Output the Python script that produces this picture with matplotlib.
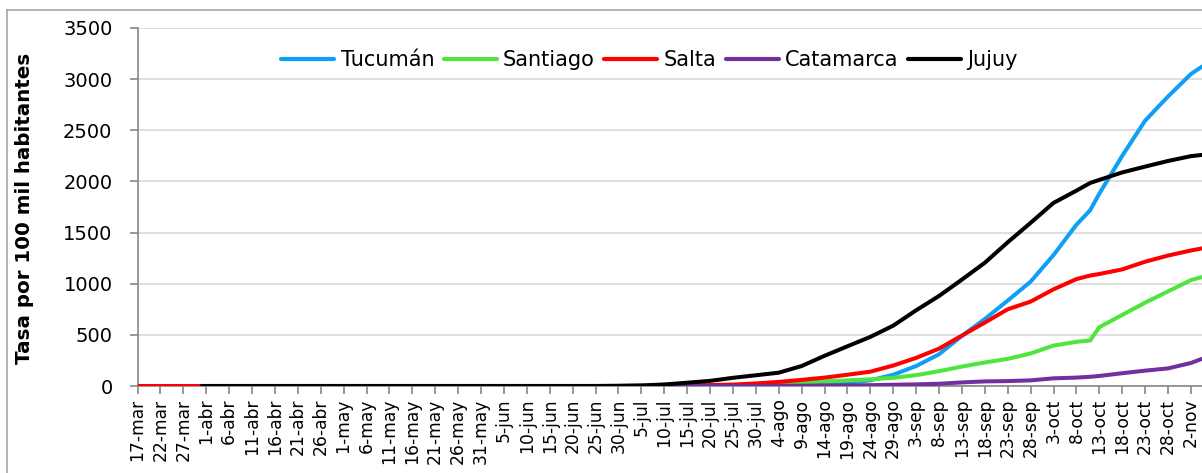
import matplotlib
matplotlib.use('Agg')
import matplotlib.pyplot as plt
import numpy as np
from matplotlib.lines import Line2D

nan = np.nan

# days since 17-mar (2020)
day_index = [0, 5, 10, 14, 15, 20, 25, 30, 35, 40, 45, 50, 55, 60, 65, 70, 75, 80, 85, 90,
             95, 100, 105, 110, 115, 120, 125, 130, 135, 140, 145, 150, 155, 160, 165, 170,
             175, 180, 185, 190, 195, 200, 205, 208, 210, 215, 220, 225, 230, 233]

tucuman = [nan, nan, nan,
           0, 0, 0, 0, 0, 0, 0, 0, 0, 0, 0, 0, 0, 0, 0, 0, 0, 0, 0, 0, 0, 0,
           1, 2, 3, 5, 8, 12, 18, 32, 55, 110, 195, 310, 490, 655, 835, 1020, 1280,
           1576, 1719, 1880, 2250, 2594, 2830, 3050, 3140]

santiago = [nan, nan, nan,
            0, 0, 0, 0, 0, 0, 0, 0, 0, 0, 0, 0, 0, 0, 0, 0, 0, 0, 0, 0, 0, 0, 0,
            3, 8, 15, 25, 35, 45, 55, 65, 80, 106, 145, 190, 230, 265, 318, 395, 432,
            445, 575, 695, 815, 925, 1035, 1072]

salta = [0, 0, 0, 0, 0, 0, 0, 0, 0, 0, 0, 0, 0, 0, 0, 0, 0, 0, 0, 0, 0, 0, 0,
         3, 4, 6, 9, 14, 25, 40, 60, 82, 110, 140, 200, 275, 365, 493, 620, 750, 825,
         945, 1045, 1080, 1095, 1140, 1215, 1275, 1325, 1350]

catamarca = [nan, nan, nan,
             0, 0, 0, 0, 0, 0, 0, 0, 0, 0, 0, 0, 0, 0, 0, 0, 0, 0, 0, 0, 0, 0, 0, 0, 0, 0,
             2, 3, 5, 6, 8, 12, 16, 22, 35, 45, 48, 55, 75, 82, 90, 98, 125, 150, 172,
             225, 275]

jujuy = [nan, nan, nan,
         0, 0, 0, 0, 0, 0, 0, 0, 0, 0, 0, 0, 0, 0, 0, 0, 0, 0, 0,
         2, 5, 15, 32, 50, 80, 105, 130, 195, 295, 388, 480, 590, 740, 880, 1040, 1205,
         1405, 1595, 1790, 1910, 1985, 2015, 2088, 2145, 2200, 2247, 2262]

series_names = ['Tucumán', 'Santiago', 'Salta', 'Catamarca', 'Jujuy']
series_values = [tucuman, santiago, salta, catamarca, jujuy]
series_colors = ['#0FA0F5', '#4EE63C', '#FF0000', '#7030A0', '#000000']

tick_labels = ['17-mar', '22-mar', '27-mar', '1-abr', '6-abr', '11-abr', '16-abr', '21-abr',
               '26-abr', '1-may', '6-may', '11-may', '16-may', '21-may', '26-may', '31-may',
               '5-jun', '10-jun', '15-jun', '20-jun', '25-jun', '30-jun', '5-jul', '10-jul',
               '15-jul', '20-jul', '25-jul', '30-jul', '4-ago', '9-ago', '14-ago', '19-ago',
               '24-ago', '29-ago', '3-sep', '8-sep', '13-sep', '18-sep', '23-sep', '28-sep',
               '3-oct', '8-oct', '13-oct', '18-oct', '23-oct', '28-oct', '2-nov']
tick_step = 5

W, H = 1202, 473
fig = plt.figure(figsize=(W / 100, H / 100), dpi=100)
ax_left, ax_right, ax_top, ax_bottom = 137.5, 1202, 28, 386
ax = fig.add_axes([ax_left / W, 1 - ax_bottom / H, (ax_right - ax_left) / W, (ax_bottom - ax_top) / H])

for name, vals, col in zip(series_names, series_values, series_colors):
    ax.plot(day_index, vals, color=col, lw=2.9, label=name, solid_capstyle='round', zorder=3)

px_per_day = 4.58
ax.set_xlim(0, (ax_right - ax_left) / px_per_day)
ax.set_ylim(0, 3500)
ax.set_yticks(np.arange(0, 3501, 500))
ax.set_xticks([i * tick_step for i in range(len(tick_labels))])
ax.set_xticklabels(tick_labels, rotation=90, fontsize=12.3, family='DejaVu Sans')
ax.tick_params(axis='y', labelsize=14, length=6, width=1.2, color='#868686', pad=12)
ax.tick_params(axis='x', length=6, width=1.2, color='#868686', pad=3)

ax.grid(axis='y', color='#D9D9D9', lw=1.2, zorder=0)
ax.set_axisbelow(True)
for s in ['top', 'right']:
    ax.spines[s].set_visible(False)
for s in ['left', 'bottom']:
    ax.spines[s].set_color('#868686')
    ax.spines[s].set_linewidth(1.2)

ax.set_ylabel('Tasa por 100 mil habitantes', fontsize=14.3, fontweight='bold')
ax.yaxis.set_label_coords(-0.097, 0.497)

leg = ax.legend(loc='center', bbox_to_anchor=(0.481, 0.911), ncol=5, frameon=False,
                fontsize=15, handlelength=2.55, handletextpad=0.3, columnspacing=0.45)
for h in leg.get_lines():
    h.set_linewidth(3)

# outer chart frame (left and top edges visible)
fig.add_artist(Line2D([7 / W, 7 / W], [0, 1 - 10 / H], color='#A6A6A6', lw=1.2))
fig.add_artist(Line2D([7 / W, 1], [1 - 10 / H, 1 - 10 / H], color='#A6A6A6', lw=1.2))

fig.savefig('out.png', dpi=100)
